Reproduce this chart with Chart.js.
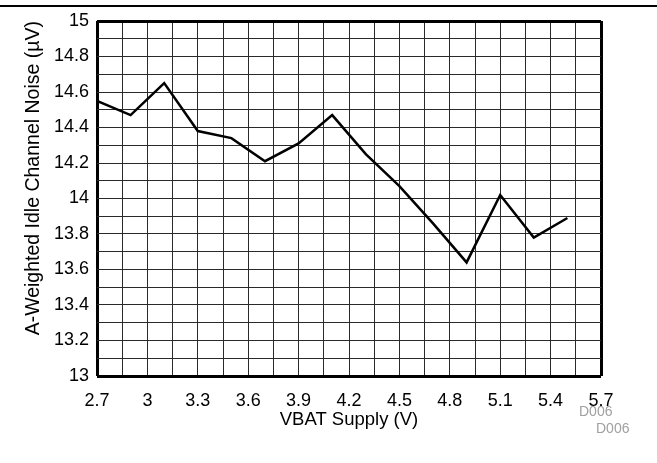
<!DOCTYPE html>
<html lang="en">
<head>
<meta charset="UTF-8">
<title>A-Weighted Idle Channel Noise vs VBAT Supply</title>
<script src="https://cdn.jsdelivr.net/npm/chart.js"></script>
<style>
  html, body { margin: 0; padding: 0; background: #fff; }
  body { width: 657px; height: 463px; position: relative; overflow: hidden; font-family: "Liberation Sans", Arial, sans-serif; }
  #noiseChart { display: block; }
  #topRule { position: absolute; left: 0; top: 5px; width: 657px; height: 2px; background: #000; }
  .code { position: absolute; font-size: 14px; line-height: 14px; color: #a0a0a0; }
</style>
</head>
<body>
<canvas id="noiseChart" width="657" height="463"></canvas>
<div id="topRule"></div>
<div class="code" style="left:579px; top:404px;">D006</div>
<div class="code" style="left:596px; top:421px;">D006</div>
<script>
// values
const vbat  = [2.7, 2.9, 3.1, 3.3, 3.5, 3.7, 3.9, 4.1, 4.3, 4.5, 4.7, 4.9, 5.1, 5.3, 5.5];
const noise = [14.55, 14.47, 14.65, 14.38, 14.34, 14.21, 14.31, 14.47, 14.25, 14.07, 13.86, 13.64, 14.02, 13.78, 13.89];

const xTickLabels = ['2.7', '3', '3.3', '3.6', '3.9', '4.2', '4.5', '4.8', '5.1', '5.4', '5.7'];
const yTickLabels = ['13', '13.2', '13.4', '13.6', '13.8', '14', '14.2', '14.4', '14.6', '14.8', '15'];

const xMin = 2.7, xMax = 5.7, xGridStep = 0.15;
const yMin = 13, yMax = 15, yGridStep = 0.1;

const family = '"Liberation Sans", Arial, sans-serif';
const tickFont = { family: family, size: 18 };

function gridTicks(min, max, step) {
    const ticks = [];
    const n = Math.round((max - min) / step);
    for (let i = 0; i <= n; i++) ticks.push({ value: +(min + i * step).toFixed(3) });
    return ticks;
}

function edgeWidth(ctx) {
    const last = ctx.scale.ticks.length - 1;
    return (ctx.index === 0 || ctx.index === last) ? 3 : 1;
}
function edgeColor(ctx) {
    const last = ctx.scale.ticks.length - 1;
    return (ctx.index === 0 || ctx.index === last) ? '#000' : '#2a2a2a';
}

const ctx = document.getElementById('noiseChart').getContext('2d');
new Chart(ctx, {
    type: 'line',
    data: {
        datasets: [{
            label: 'Noise',
            data: vbat.map((v, i) => ({ x: v, y: noise[i] })),
            borderColor: '#000',
            borderWidth: 2.5,
            pointRadius: 0,
            tension: 0,
            fill: false
        }]
    },
    options: {
        responsive: false,
        animation: false,
        layout: { padding: { top: 21, right: 56, left: 0, bottom: 0 } },
        plugins: {
            legend: { display: false },
            tooltip: { enabled: false }
        },
        scales: {
            x: {
                type: 'linear',
                min: xMin,
                max: xMax,
                afterBuildTicks: s => { s.ticks = gridTicks(xMin, xMax, xGridStep); },
                afterFit: s => { s.height = 87; },
                border: { display: false },
                grid: { drawTicks: false, lineWidth: edgeWidth, color: edgeColor },
                ticks: {
                    autoSkip: false,
                    maxRotation: 0,
                    padding: 14,
                    color: '#000',
                    font: tickFont,
                    callback: (v, i) => (i % 2 === 0 ? xTickLabels[i / 2] : '')
                },
                title: {
                    display: true,
                    text: 'VBAT Supply (V)',
                    color: '#000',
                    font: { family: family, size: 18.5 },
                    padding: { top: 0, bottom: 32 }
                }
            },
            y: {
                type: 'linear',
                min: yMin,
                max: yMax,
                afterBuildTicks: s => { s.ticks = gridTicks(yMin, yMax, yGridStep); },
                afterFit: s => { s.width = 97; },
                border: { display: false },
                grid: { drawTicks: false, lineWidth: edgeWidth, color: edgeColor },
                ticks: {
                    autoSkip: false,
                    padding: 8,
                    color: '#000',
                    font: tickFont,
                    callback: (v, i) => (i % 2 === 0 ? yTickLabels[i / 2] : '')
                },
                title: {
                    display: true,
                    text: 'A-Weighted Idle Channel Noise (\u00B5V)',
                    align: 'end',
                    color: '#000',
                    font: { family: family, size: 19.5 },
                    padding: { top: 22, bottom: 0 }
                }
            }
        }
    }
});
</script>
</body>
</html>
